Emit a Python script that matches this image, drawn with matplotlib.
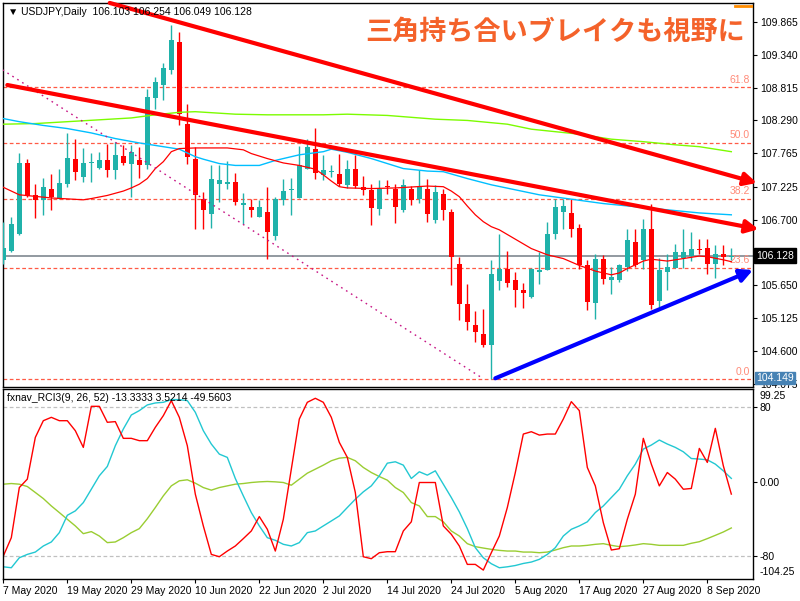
import matplotlib
matplotlib.use('Agg')
import matplotlib.pyplot as plt
import matplotlib.transforms as mtransforms

plt.rcParams['font.family'] = ['Liberation Sans', 'DejaVu Sans']

# ---- データ（チャートから読み取り） ----
date_ticks = [0, 8, 16, 24, 32, 40, 48, 56, 64, 72, 80, 88]
date_labels = ['7 May 2020', '19 May 2020', '29 May 2020', '10 Jun 2020', '22 Jun 2020', '2 Jul 2020',
               '14 Jul 2020', '24 Jul 2020', '5 Aug 2020', '17 Aug 2020', '27 Aug 2020', '8 Sep 2020']

opens = [106.06, 106.20, 106.47, 107.61, 107.10, 107.01, 107.20, 107.04, 107.27, 107.67,
         107.39, 107.61, 107.53, 107.66, 107.49, 107.72, 107.59, 107.65, 107.57, 108.65,
         108.85, 109.09, 109.55, 108.24, 107.68, 107.03, 106.79, 107.27, 107.28, 107.31,
         106.94, 106.90, 106.74, 106.83, 106.44, 107.01, 107.18, 107.05, 107.51, 107.84,
         107.41, 107.47, 107.43, 107.26, 107.51, 107.22, 107.17, 106.88, 107.24, 107.20,
         106.86, 107.19, 107.04, 107.20, 106.70, 107.11, 106.83, 106.00, 105.36, 105.02,
         104.87, 104.69, 105.72, 105.92, 105.74, 105.58, 105.47, 105.86, 105.90, 106.48,
         106.83, 106.81, 106.57, 105.97, 105.37, 106.07, 105.74, 105.74, 105.95, 106.35,
         106.06, 106.55, 105.40, 105.87, 105.93, 106.09, 106.12, 106.24, 106.25, 105.99,
         106.16, 106.103]
highs = [106.67, 106.75, 107.77, 107.68, 107.27, 107.37, 107.43, 107.51, 108.09, 107.99,
         107.85, 107.77, 107.79, 107.92, 107.95, 107.90, 107.90, 107.86, 108.79, 108.99,
         109.21, 109.82, 109.71, 108.55, 107.87, 107.15, 107.57, 107.57, 107.64, 107.45,
         107.13, 107.03, 107.02, 107.22, 107.06, 107.36, 107.37, 107.88, 107.99, 108.17,
         107.73, 107.58, 107.76, 107.66, 107.73, 107.40, 107.27, 107.33, 107.34, 107.28,
         107.36, 107.24, 107.50, 107.36, 107.26, 107.20, 106.88, 106.10, 105.68, 105.24,
         105.28, 106.06, 106.47, 106.20, 105.87, 105.69, 105.93, 106.19, 106.67, 107.03,
         107.03, 107.04, 106.64, 106.06, 106.15, 106.14, 105.95, 105.99, 106.56, 106.56,
         106.71, 106.95, 106.09, 106.15, 106.31, 106.56, 106.51, 106.40, 106.40, 106.29,
         106.30, 106.254]
lows = [106.00, 106.18, 106.46, 107.07, 106.73, 106.77, 106.85, 107.04, 107.23, 107.33,
        107.31, 107.31, 107.51, 107.39, 107.36, 107.57, 107.07, 107.37, 107.51, 108.47,
        108.61, 109.04, 108.22, 107.60, 106.56, 106.56, 106.57, 106.99, 107.19, 106.94,
        106.64, 106.74, 106.74, 106.07, 106.37, 106.94, 106.78, 107.05, 107.51, 107.36,
        107.33, 107.39, 107.24, 107.21, 107.21, 107.09, 106.62, 106.78, 107.12, 106.65,
        106.83, 106.93, 106.97, 106.67, 106.65, 106.70, 105.66, 105.10, 104.94, 104.75,
        104.67, 104.149, 105.57, 105.63, 105.31, 105.29, 105.45, 105.68, 105.90, 106.40,
        106.56, 106.43, 105.92, 105.26, 105.11, 105.68, 105.51, 105.70, 105.88, 105.95,
        105.91, 105.27, 105.31, 105.58, 105.93, 105.93, 106.04, 106.15, 105.84, 105.77,
        105.97, 106.049]
closes = [106.25, 106.63, 107.61, 107.08, 107.01, 107.23, 107.07, 107.29, 107.69, 107.47,
          107.61, 107.62, 107.66, 107.49, 107.73, 107.61, 107.78, 107.57, 108.67, 108.91,
          109.13, 109.58, 108.39, 107.71, 107.10, 106.85, 107.35, 107.33, 107.31, 106.99,
          106.97, 106.86, 106.91, 106.51, 107.04, 107.16, 107.19, 107.57, 107.87, 107.45,
          107.50, 107.48, 107.27, 107.51, 107.24, 107.18, 106.89, 107.19, 107.23, 106.91,
          107.26, 107.02, 107.23, 106.79, 107.14, 106.85, 106.11, 105.36, 105.07, 104.91,
          104.70, 105.84, 105.92, 105.69, 105.58, 105.53, 105.92, 105.89, 106.48, 106.90,
          106.92, 106.56, 105.97, 105.39, 106.08, 105.75, 105.79, 105.97, 106.38, 105.97,
          106.55, 105.34, 105.90, 105.95, 106.19, 106.19, 106.23, 106.21, 106.00, 106.16,
          106.11, 106.128]

# 移動平均（読み取った頂点）
ma_red_x = [0, 2, 6, 10, 11, 13, 15, 16, 17, 18, 19, 20, 21, 22, 24, 28, 30, 31, 33, 35, 37, 39, 40,
            41, 42, 43, 46, 49, 53, 55, 56, 57, 58, 59, 60, 61, 62, 64, 66, 68, 70, 72, 74, 76, 77,
            78, 79, 80, 81, 83, 85, 87, 88, 90, 91]
ma_red_y = [107.22, 107.10, 107.05, 107.02, 107.04, 107.09, 107.16, 107.21, 107.27, 107.36, 107.52,
            107.63, 107.79, 107.84, 107.85, 107.85, 107.82, 107.76, 107.68, 107.61, 107.57, 107.51,
            107.42, 107.32, 107.23, 107.21, 107.20, 107.21, 107.24, 107.23, 107.16, 107.07, 106.92,
            106.78, 106.67, 106.59, 106.54, 106.39, 106.24, 106.14, 106.08, 105.97, 105.88, 105.82,
            105.85, 105.92, 105.98, 106.04, 106.07, 106.04, 106.08, 106.12, 106.11, 106.06, 106.03]
ma_blue_x = [0, 2, 5, 8, 11, 14, 17, 20, 22, 24, 25, 27, 29, 32, 34, 37, 40, 41, 43, 46, 48, 50, 53,
             55, 58, 61, 64, 67, 71, 75, 79, 83, 87, 91]
ma_blue_y = [108.32, 108.27, 108.21, 108.16, 108.09, 108.00, 107.93, 107.87, 107.83, 107.71, 107.67,
             107.60, 107.57, 107.57, 107.65, 107.74, 107.79, 107.83, 107.78, 107.68, 107.60, 107.52,
             107.48, 107.47, 107.36, 107.26, 107.18, 107.10, 107.03, 106.96, 106.91, 106.86, 106.81,
             106.78]
ma_green_x = [0, 4, 8, 12, 16, 19, 22, 24, 29, 33, 40, 43, 48, 54, 58, 63, 66, 72, 76, 80, 84, 87, 91]
ma_green_y = [108.23, 108.24, 108.27, 108.30, 108.33, 108.38, 108.42, 108.43, 108.39, 108.38, 108.38,
              108.39, 108.37, 108.31, 108.29, 108.23, 108.15, 108.07, 107.99, 107.95, 107.90, 107.87,
              107.79]

# フィボナッチ
fib_low = 104.149
fib_high = 111.715
fib_levels = [0.0, 23.6, 38.2, 50.0, 61.8]

# トレンドライン (bar index, price)
upper_line = [(13.3, 110.17), (94.2, 107.29)]
lower_line = [(0.5, 108.857), (94.4, 106.55)]
support_line = [(61.5, 104.164), (93.7, 105.897)]
dotted_line = [(-0.1, 109.10), (59.6, 104.19)]

price_ticks = [109.865, 109.340, 108.815, 108.290, 107.765, 107.225, 106.700, 105.650, 105.125,
               104.600, 104.075]
last_price = 106.128

# RCI
rci9 = [-79.7, -60, -6.3, 2.7, 47.4, 65.3, 68.9, 65.3, 65.3, 54.6, 36.7, 80.7, 80.7, 63.6, 64.3,
        46.4, 46.4, 43.9, 43.9, 58.2, 70.7, 86.8, 68.9, 38.5, -13.4, -47.4, -77.9, -80.4, -74.3,
        -68.9, -61, -52.8, -37.4, -51, -74.3, -40.3, 13.4, 67.1, 85, 89.3, 85, 68.9, 42.1, 26,
        -11.6, -80.4, -82.5, -76.1, -75, -75, -52.8, -43, -0.9, -0.9, -0.9, -47.4, -56.4, -68.9,
        -88.6, -88.6, -94.7, -76.1, -58.2, -27.7, 9.8, 51, 53.5, 49.9, 51, 51, 67.1, 85.7, 76.1,
        15.2, -4.5, -43.9, -73.2, -71.8, -40.3, -13.4, 46.4, 18.8, -4.5, 9.8, 2.7, -8.1, -7.3,
        35.6, 20.6, 57.1, 17, -13.3]
rci26 = [-91.2, -92.2, -81.5, -77.9, -75.4, -68.9, -64.6, -54.6, -36, -31.3, -22.4, -8.1, 6.3,
         16.3, 38.5, 56.4, 71.4, 76.1, 82.2, 84.3, 85, 87.9, 87.9, 86.8, 74.3, 54.6, 40.3, 29.5,
         26, 3.4, -15.2, -33.1, -47.4, -60, -62.8, -67.1, -68.9, -65.3, -54.6, -52.8, -47.4,
         -42.1, -36.7, -27.7, -18.8, -10.9, -4.5, 6.3, 19.8, 21.3, 17.7, 3.4, 10.6, 7, 11.6,
         -2.7, -17, -32.4, -50.3, -70.7, -81.5, -87.9, -92.2, -91.2, -89.8, -87.6, -86.1, -83.2,
         -77.9, -70.7, -58.2, -51, -47.4, -43, -33.1, -26, -17, -8.1, 6.3, 18.8, 34.9, 39.2,
         44.6, 40.3, 36.7, 32, 24.8, 24.2, 23.4, 18.8, 11.6, 3.5]
rci52 = [-2.7, -2, -2.7, -5.2, -11.6, -18.1, -26, -33.1, -40.3, -47.4, -55.7, -53.5, -58.2,
         -65.3, -64.6, -60, -54.6, -50.3, -39.7, -27.7, -15.2, -4.5, 0.9, 2, -1.6, -6.3, -9.1,
         -6.3, -4.5, -2.7, -2, -0.9, -0.2, 0.2, -0.2, -0.9, -3.8, 2.7, 9.1, 13.4, 17.7, 22.4,
         25.2, 26, 22.4, 15.2, 9.8, 5.5, 1.6, -6.3, -11.6, -22.4, -26, -37.4, -37.4, -43, -52.8,
         -58.2, -66.4, -69.6, -71.1, -72.5, -73.6, -74.3, -74.3, -75.4, -75.4, -76.1, -75.4,
         -73.2, -70.7, -68.9, -68.9, -68.2, -67.1, -66.4, -68.2, -69.6, -68.9, -67.8, -66.4,
         -67.1, -68.2, -68.2, -68.2, -68.2, -66, -64.3, -61, -57.5, -53.9, -49.6]

# ---- 色 ----
bull = '#20B2AA'
bear = '#FF0000'
fib_col = '#FF5A45'
fib_txt = '#FF8A78'

W, H = 800, 601
fig = plt.figure(figsize=(8, 6.01), dpi=100)
fig.patch.set_facecolor('white')
ax = fig.add_axes([3 / W, 1 - 387 / H, 750 / W, 384 / H])
ax2 = fig.add_axes([3 / W, 1 - 579 / H, 750 / W, 190 / H])

n = len(opens)
xs = list(range(n))

# ---- メインチャート ----
ax.set_xlim(-0.04, 93.71)
ax.set_ylim(104.025, 110.169)
bt = mtransforms.blended_transform_factory(ax.transAxes, ax.transData)

for lv in fib_levels:
    p = fib_low + (fib_high - fib_low) * lv / 100
    ax.axhline(p, color=fib_col, lw=0.9, dashes=(3, 2), zorder=1)
    ax.text(0.996, p + 0.04, f'{lv:.1f}', transform=bt,
            ha='right', va='bottom', fontsize=7.5, color=fib_txt, zorder=2)
ax.axhline(last_price, color='#7F8890', lw=1.2, zorder=1)

cols = [bull if c >= o else bear for o, c in zip(opens, closes)]
ax.vlines(xs, lows, highs, colors=cols, lw=1, zorder=3)
bottoms = [min(o, c) for o, c in zip(opens, closes)]
heights = [max(abs(c - o), 0.018) for o, c in zip(opens, closes)]
ax.bar(xs, heights, bottom=bottoms, width=0.62, color=cols, linewidth=0, zorder=4)

ax.plot(ma_green_x, ma_green_y, color='#7CFC00', lw=1, zorder=5)
ax.plot(ma_blue_x, ma_blue_y, color='#00BFFF', lw=1, zorder=5)
ax.plot(ma_red_x, ma_red_y, color='#FF0000', lw=0.9, zorder=5)

ax.plot([p[0] for p in dotted_line], [p[1] for p in dotted_line], color='#C71585', lw=1,
        dashes=(1.2, 3), zorder=5)

for line, col in [(upper_line, '#FF0000'), (lower_line, '#FF0000'), (support_line, '#0000FF')]:
    ax.annotate('', xy=line[1], xytext=line[0], annotation_clip=False,
                arrowprops=dict(arrowstyle='-|>,head_length=0.75,head_width=0.38', color=col,
                                lw=3, shrinkA=0, shrinkB=0), zorder=8)

ax.yaxis.tick_right()
ax.set_yticks(price_ticks)
ax.set_yticklabels([f'{t:.3f}' for t in price_ticks])
ax.tick_params(axis='y', direction='out', length=3, labelsize=7.5, pad=2, colors='black')
ax.set_xticks([])
for s in ax.spines.values():
    s.set_color('black')
    s.set_linewidth(1)

ax.text(1.0045, last_price, f'{last_price:.3f}', transform=bt, ha='left', va='center', fontsize=7.5,
        color='white', bbox=dict(facecolor='black', edgecolor='black', pad=1.6), zorder=10, clip_on=False)
ax.text(1.0045, fib_low + 0.02, f'{fib_low:.3f}', transform=bt, ha='left', va='center', fontsize=7.5,
        color='white', bbox=dict(facecolor='#4682B4', edgecolor='#4682B4', pad=0.8), zorder=10, clip_on=False)

ax.plot([0.976, 0.999], [0.993, 0.993], transform=ax.transAxes, color='#FF8C00', lw=2, zorder=9)

fig.text(8 / W, 1 - 12 / H, '▼ USDJPY,Daily  106.103 106.254 106.049 106.128', fontsize=7.5,
         va='center', ha='left', zorder=1)

fig.text(745 / W, 1 - 32 / H, '三角持ち合いブレイクも視野に', fontsize=19.5, fontweight='bold',
         color='#F4622A', ha='right', va='center', family=['Noto Sans CJK JP', 'DejaVu Sans'])

# ---- RCI ----
ax2.set_xlim(-0.04, 93.71)
ax2.set_ylim(-104.25, 99.25)
ax2.axhline(80, color='#C0C0C0', lw=0.9, dashes=(3, 2))
ax2.axhline(-80, color='#C0C0C0', lw=0.9, dashes=(3, 2))
ax2.plot(xs, rci52, color='#9ACD32', lw=1)
ax2.plot(xs, rci26, color='#22C8D2', lw=1)
ax2.plot(xs, rci9, color='#FF0000', lw=1)

ax2.yaxis.tick_right()
ax2.set_yticks([80, 0, -80])
ax2.set_yticklabels(['80', '0.00', '-80'])
ax2.tick_params(axis='y', direction='out', length=3, labelsize=7.5, pad=2)
ax2.text(1.009, 0.965, '99.25', transform=ax2.transAxes, ha='left', va='center', fontsize=7.5)
ax2.text(1.009, 0.035, '-104.25', transform=ax2.transAxes, ha='left', va='center', fontsize=7.5)

ax2.set_xticks(date_ticks)
ax2.set_xticklabels(date_labels, ha='left', fontsize=7.5)
ax2.tick_params(axis='x', direction='out', length=3, pad=2)
for lbl in ax2.get_xticklabels():
    lbl.set_horizontalalignment('left')
for s in ax2.spines.values():
    s.set_color('black')
    s.set_linewidth(1)

fig.text(7 / W, 1 - 398 / H, 'fxnav_RCI3(9, 26, 52) -13.3333 3.5214 -49.5603', fontsize=7.5,
         va='center', ha='left')

fig.savefig('out.png', dpi=100, facecolor='white')
